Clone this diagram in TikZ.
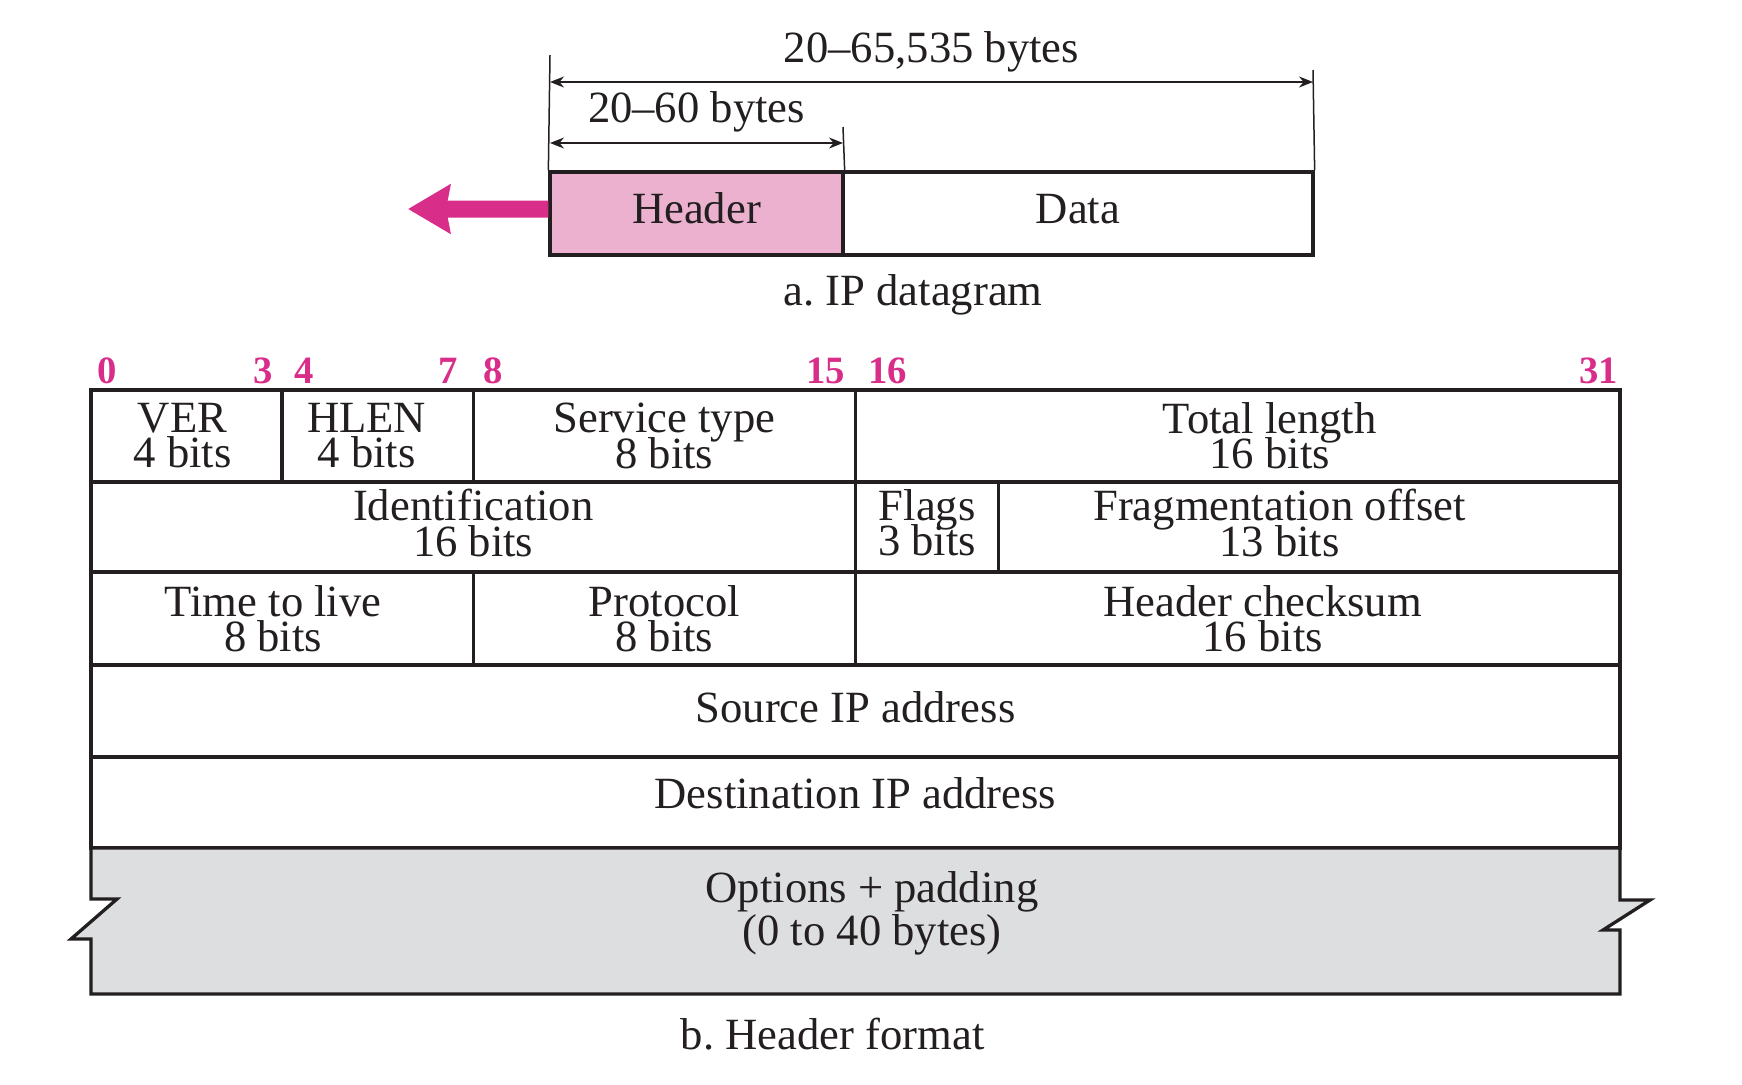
\documentclass[tikz,border=0pt]{standalone}
\usepackage{fontspec}
\setmainfont{Liberation Serif}
\usepackage{xcolor}
\definecolor{hblack}{RGB}{35,31,32}
\definecolor{hpink}{RGB}{235,177,207}
\definecolor{hmag}{RGB}{217,45,138}
\definecolor{hgrey}{RGB}{221,222,224}
\usetikzlibrary{arrows.meta,calc}
\frenchspacing
\newcommand{\txt}{\fontsize{12.7}{10}\selectfont\lineskiplimit=-20pt}
\newcommand{\field}[7][]{\draw[cell] ({91+\bw*#3},#5) rectangle ({91+\bw*#4},#6);\node[lbl,#1] (#2) at ({91+\bw*(#3+#4)/2},{(#5+#6)/2}) {#7};}

\begin{document}
\begin{tikzpicture}[x=0.1mm,y=-0.1mm,
    every node/.style={font=\txt,inner sep=0pt,text=hblack},
    cell/.style={draw=hblack,line width=0.33mm},
    lbl/.style={align=center},
    blk/.style={draw=hblack,line width=0.33mm,minimum height=8.3mm,text height=3.05mm,text depth=1.1mm},
    ext/.style={draw=hblack,line width=0.15mm},
    dim/.style={draw=hblack,line width=0.15mm,<->,>={Stealth[length=1.4mm,width=1.1mm]}},
    harrow/.style={draw=hmag,line width=1.7mm,-{Stealth[length=4.2mm,width=4.8mm,inset=0.4mm]}},
    bitno/.style={font=\bfseries\fontsize{11}{11}\selectfont,text=hmag}]
  \useasboundingbox (0,0) rectangle (1742,1084);
  \pgfmathsetmacro{\bw}{47.78};
  % a. IP datagram
  \node[blk,fill=hpink,minimum width=29.3mm] (hdr) at (696.5,213.5) {Header};
  \node[blk,minimum width=47mm] (data) at (1078,213.5) {Data};
  \coordinate (e1) at (550,55);
  \coordinate (e2) at (843,127);
  \coordinate (e3) at (1313,70);
  \draw[ext] (hdr.north west) -- (e1);
  \draw[ext] (hdr.north east) -- (e2);
  \draw[ext] (data.north east) -- (e3);
  \coordinate (d1a) at (550,82);
  \coordinate (d1b) at (1313,82);
  \coordinate (d2a) at (550,143);
  \coordinate (d2b) at (843,143);
  \draw[dim] (d1a) -- node[above=0.93mm] (tot) {20--65,535 bytes} (d1b);
  \draw[dim] (d2a) -- node[above=1mm] (hlen) {20--60 bytes} (d2b);
  \coordinate (tip) at (408,209);
  \draw[harrow] ([yshift=0.45mm]hdr.west) -- (tip);
  \node[anchor=base] (capa) at (913,305) {a. IP datagram};
  % b. Header format
  \foreach \b/\s in {0/6,4/12,8/10,16/12}
    \node[bitno,anchor=base west] (s\b) at ({91+\bw*\b+\s},383) {\b};
  \foreach \b/\s in {3/-9,7/-15,15/-10,31/-1}
    \node[bitno,anchor=base east] (t\b) at ({91+\bw*(\b+1)+\s},383) {\b};
  \field[xshift=-0.4mm]{ver}{0}{4}{390}{482}{VER\\4 bits}
  \field[xshift=-1.1mm]{hl}{4}{8}{390}{482}{HLEN\\4 bits}
  \field{tos}{8}{16}{390}{482}{Service type\\8 bits}
  \field[xshift=3.2mm]{len}{16}{32}{390}{482}{Total length\\16 bits}
  \field[yshift=0.4mm]{id}{0}{16}{482}{572}{Identification\\16 bits}
  \field[yshift=0.4mm]{flg}{16}{19}{482}{572}{Flags\\3 bits}
  \field[xshift=-3mm,yshift=0.4mm]{frag}{19}{32}{482}{572}{Fragmentation offset\\13 bits}
  \field[xshift=-0.9mm]{ttl}{0}{8}{572}{665}{Time to live\\8 bits}
  \field{prot}{8}{16}{572}{665}{Protocol\\8 bits}
  \field[xshift=2.5mm]{csum}{16}{32}{572}{665}{Header checksum\\16 bits}
  \field[yshift=0.4mm]{src}{0}{32}{665}{757}{Source IP address}
  \field[yshift=0.95mm]{dst}{0}{32}{757}{848}{Destination IP address}
  \draw[cell,fill=hgrey] (91,848) -- (1620,848) -- (1620,900) -- (1650,900) -- (1603,930)
    -- (1620,930) -- (1620,994) -- (91,994) -- (91,939) -- (71,939) -- (117,899)
    -- (91,899) -- cycle;
  \node[lbl,font=\fontsize{12.7}{12.2}\selectfont] (opt) at (872,913) {Options + padding\\(0 to 40 bytes)};
  \node[anchor=base] (capb) at (832.6,1049) {b. Header format};
\end{tikzpicture}
\end{document}
